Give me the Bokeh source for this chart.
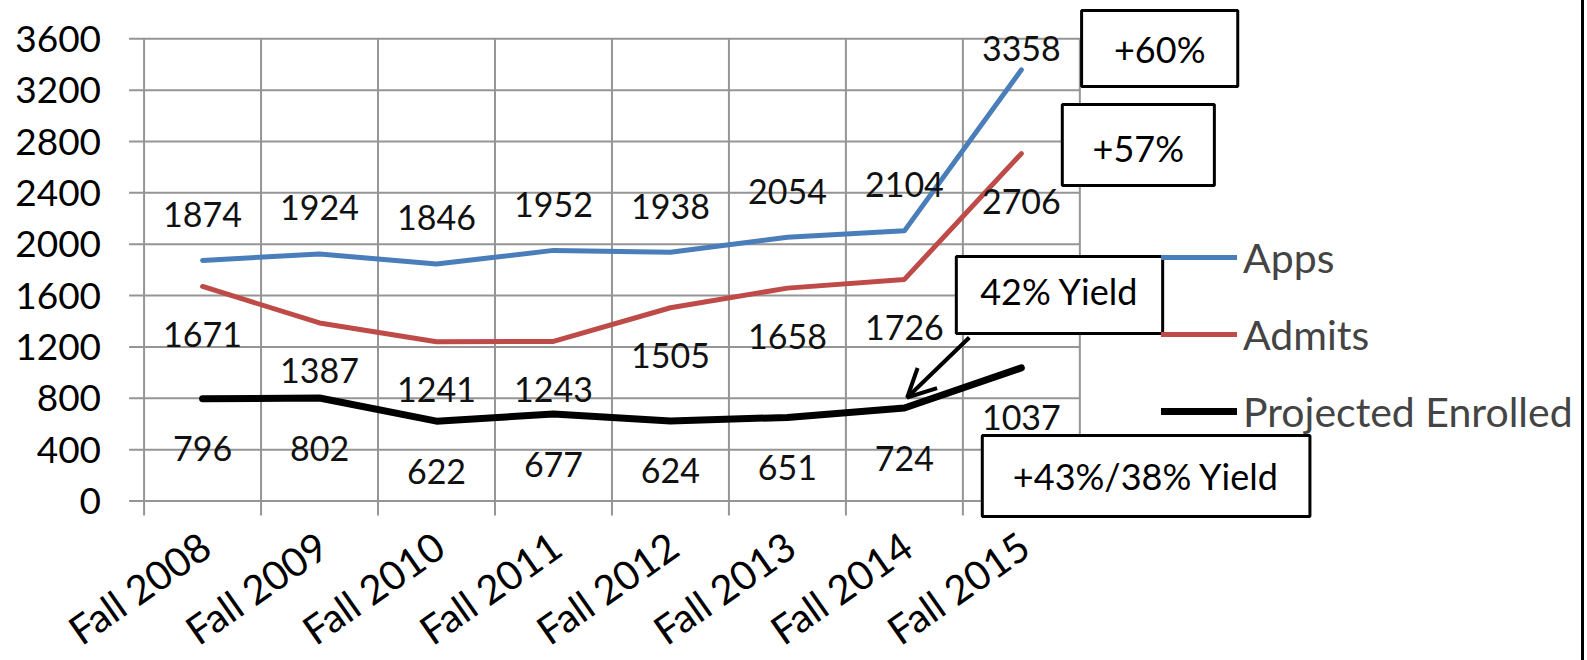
import math
from bokeh.plotting import figure
from bokeh.models import (Range1d, Legend, LegendItem,
                          BoxAnnotation, Label, Arrow, OpenHead, ColumnDataSource)
from bokeh.core.properties import value
from bokeh.embed import file_html
from bokeh.resources import INLINE

# ---------------- data ----------------
categories = ["Fall 2008", "Fall 2009", "Fall 2010", "Fall 2011",
              "Fall 2012", "Fall 2013", "Fall 2014", "Fall 2015"]
apps = [1874, 1924, 1846, 1952, 1938, 2054, 2104, 3358]
admits = [1671, 1387, 1241, 1243, 1505, 1658, 1726, 2706]
enrolled = [796, 802, 622, 677, 624, 651, 724, 1037]
y_ticks = [0, 400, 800, 1200, 1600, 2000, 2400, 2800, 3200, 3600]
series_names = ["Apps", "Admits", "Projected Enrolled"]
callouts = ["+60%", "+57%", "42% Yield", "+43%/38% Yield"]

# ---------------- style ----------------
FONT = "Lato"
GRID = "#959595"
BLUE = "#4A7EBB"
RED = "#BE4B48"
PX_X = 116.75          # px per category
PX_Y = 0.128389        # px per unit
W, H = 1584, 660
BORDER = 3
LEFT_PX = 143.3        # pixel column of the plot-area left edge
ZERO_Y = 500.5         # pixel row of value 0
Y_TOP = 3600 + 38.3 / PX_Y
Y_BOT = -(H - ZERO_Y) / PX_Y
X_START = -LEFT_PX / PX_X
X_END = (W - BORDER - LEFT_PX) / PX_X
TICK_DOWN = 14.5 / PX_Y
TICK_LEFT = 15 / PX_X
XLABEL_Y = -(541 - ZERO_Y) / PX_Y

n = len(categories)
xs = [i + 0.5 for i in range(n)]

p = figure(width=W, height=H, output_backend="svg", toolbar_location=None,
           x_range=Range1d(X_START, X_END), y_range=Range1d(Y_BOT, Y_TOP),
           x_axis_location=None, y_axis_location=None,
           min_border_left=0, min_border_right=0, min_border_top=0,
           min_border_bottom=0)
p.outline_line_color = None
p.xgrid.visible = False
p.ygrid.visible = False
p.styles = {"border-right": "%dpx solid black" % BORDER}

# grid lines: horizontal ones extend left as value-axis ticks,
# vertical ones extend down as category ticks
p.segment(x0=[-TICK_LEFT] * len(y_ticks), x1=[n] * len(y_ticks), y0=y_ticks, y1=y_ticks,
          line_color=GRID, line_width=2)
p.segment(x0=list(range(n + 1)), x1=list(range(n + 1)),
          y0=[-TICK_DOWN] * (n + 1), y1=[y_ticks[-1]] * (n + 1),
          line_color=GRID, line_width=2)

# value-axis tick labels
ytl = ColumnDataSource(dict(x=[0] * len(y_ticks), y=y_ticks, t=[str(v) for v in y_ticks]))
p.text(x="x", y="y", text="t", source=ytl, x_offset=-43,
       text_align="right", text_baseline="middle",
       text_font=value(FONT), text_font_size="37px", text_color="black")

# category labels (rotated)
cat_src = ColumnDataSource(dict(x=xs, y=[XLABEL_Y] * n, t=categories))
p.text(x="x", y="y", text="t", source=cat_src, angle=math.radians(35),
       x_offset=3, text_align="right", text_baseline="middle",
       text_font=value(FONT), text_font_size="40px", text_color="black")

# lines
r_apps = p.line(xs, apps, line_color=BLUE, line_width=5, line_join="round", line_cap="round")
r_adm = p.line(xs, admits, line_color=RED, line_width=5, line_join="round", line_cap="round")
r_enr = p.line(xs, enrolled, line_color="black", line_width=7, line_join="round", line_cap="round")

# data labels
def labels(xv, yv, off):
    src = ColumnDataSource(dict(x=xv, y=yv, t=[str(v) for v in yv]))
    p.text(x="x", y="y", text="t", source=src, y_offset=off,
           text_align="center", text_baseline="middle",
           text_font=value(FONT), text_font_size="34px", text_color="#111111")

labels(xs[:-1], apps[:-1], -46)
labels(xs[-1:], apps[-1:], -21)
labels(xs, admits, 48)
labels(xs, enrolled, 50)

# legend
legend = Legend(items=[LegendItem(label=series_names[0], renderers=[r_apps]),
                       LegendItem(label=series_names[1], renderers=[r_adm]),
                       LegendItem(label=series_names[2], renderers=[r_enr])],
                location=(1161, 224), orientation="vertical",
                border_line_color=None, background_fill_alpha=0,
                padding=0, margin=0, spacing=27, label_height=50, glyph_height=50,
                glyph_width=76, label_standoff=6,
                label_text_font=FONT, label_text_font_size="41px")
p.add_layout(legend, "center")

# call-out boxes
boxes = [
    (8.015, 9.35, 3820, 3229, 8.683, 3517),
    (7.85, 9.15, 3088, 2457, 8.50, 2753),
    (6.944, 8.708, 1904, 1305, 7.826, 1632),
    (7.166, 9.967, 510, -121, 8.566, 191),
]
for (l, r, t, b, tx, ty), txt in zip(boxes, callouts):
    p.add_layout(BoxAnnotation(left=l, right=r, top=t, bottom=b,
                               fill_color="white", fill_alpha=1.0,
                               line_color="black", line_width=3, line_alpha=1.0))
    p.add_layout(Label(x=tx, y=ty, text=txt, text_align="center", text_baseline="middle",
                       text_font=FONT, text_font_size="36px", text_color="black"))

# arrow from "42% Yield" box to the Fall 2014 enrolled point
p.add_layout(Arrow(end=OpenHead(size=28, line_width=4, line_color="black"),
                   x_start=7.055, y_start=1273, x_end=xs[6] + 0.024, y_end=enrolled[6] + 82,
                   line_width=4, line_color="black"))

open("out.html", "w").write(file_html(p, INLINE))
